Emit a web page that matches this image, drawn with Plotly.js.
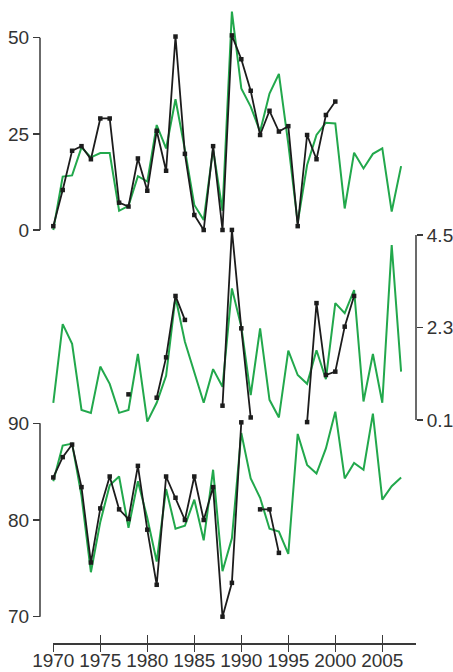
<!DOCTYPE html>
<html>
<head>
<meta charset="utf-8">
<script src="https://cdn.plot.ly/plotly-3.0.1.min.js"></script>
<style>html,body{margin:0;padding:0;background:#fff;}#chart{width:453px;height:672px;}</style>
</head>
<body>
<div id="chart"></div>
<script>
// Years 1970–2007
const years = [];
for (let y = 1970; y <= 2007; y++) years.push(y);

// Top panel (left axis 0–50)
const topGreen = [0, 13.9, 14.2, 21.5, 18.9, 20.0, 20.0, 5.0, 6.3, 14.0, 12.6, 27.3, 21.2, 34.0, 20.9, 6.5, 2.6, 21.0, 5.0, 56.8,
  36.8, 32.1, 25.6, 35.5, 40.6, 22.4, 1.9, 16.9, 24.7, 27.9, 27.7, 5.6, 20.1, 16.0, 19.8, 21.2, 4.8, 16.6];
const topBlack = [1.0, 10.4, 20.6, 21.8, 18.4, 29.0, 29.0, 7.1, 6.1, 18.6, 10.2, 25.8, 15.4, 50.3, 19.8, 3.9, 0, 21.8, 0, 50.6,
  44.4, 36.2, 24.7, 31.0, 25.6, 27.0, 1.0, 24.7, 18.4, 29.9, 33.4, null, null, null, null, null, null, null];

// Middle panel (right axis 0.1–4.5)
const midGreen = [0.51, 2.38, 1.91, 0.34, 0.27, 1.37, 0.96, 0.27, 0.34, 1.67, 0.06, 0.51, 1.15, 3.02, 1.96, 1.25, 0.51, 1.31, 0.89, 3.23,
  2.32, 0.69, 2.28, 0.58, 0.16, 1.75, 1.17, 0.96, 1.76, 1.07, 2.88, 2.64, 3.19, 0.54, 1.67, 0.51, 4.26, 1.25];
const midBlack = [null, null, null, null, null, null, null, null, 0.71, null, null, 0.63, 1.59, 3.05, 2.48, null, null, null, 0.44, 4.62,
  2.28, 0.16, null, null, null, null, null, 0.05, 2.88, 1.17, 1.25, 2.32, 3.05, null, null, null, null, null];

// Bottom panel (left axis 70–90)
const botGreen = [84.0, 87.7, 87.9, 82.5, 74.6, 79.8, 83.6, 84.5, 79.2, 84.0, 80.2, 75.7, 83.2, 79.1, 79.4, 82.1, 77.9, 85.2, 74.7, 78.1,
  89.0, 84.3, 82.3, 79.1, 78.8, 76.5, 88.9, 85.7, 84.8, 87.4, 91.2, 84.3, 85.9, 85.2, 91.0, 82.1, 83.5, 84.4];
const botBlack = [84.4, 86.5, 87.8, 83.4, 75.6, 81.2, 84.5, 81.1, 80.1, 85.6, 79.0, 73.3, 84.5, 82.3, 80.0, 84.5, 80.0, 83.4, 70.0, 73.5,
  90.1, null, 81.1, 81.1, 76.6, null, null, null, null, null, null, null, null, null, null, null, null, null];

const xTicks = [1970, 1975, 1980, 1985, 1990, 1995, 2000, 2005];
const topTicks = [0, 25, 50];
const midTicks = [0.1, 2.3, 4.5];
const botTicks = [70, 80, 90];

const GREEN = '#22a84c';
const BLACK = '#1c1c1c';
const AX = '#3a3a3a';
const TXT = '#333333';

function greenTrace(y, ya) {
  return {x: years, y: y, xaxis: 'x', yaxis: ya, mode: 'lines', line: {color: GREEN, width: 2}, hoverinfo: 'skip', showlegend: false};
}
function blackTrace(y, ya) {
  return {x: years, y: y, xaxis: 'x', yaxis: ya, mode: 'lines+markers', connectgaps: false, cliponaxis: false,
    line: {color: BLACK, width: 1.8}, marker: {symbol: 'square', size: 4.5, color: BLACK}, hoverinfo: 'skip', showlegend: false};
}
function emptyTrace(xa) {
  return {x: [], y: [], xaxis: xa, yaxis: 'y3', mode: 'lines', hoverinfo: 'skip', showlegend: false};
}

const data = [
  greenTrace(topGreen, 'y'), blackTrace(topBlack, 'y'),
  greenTrace(midGreen, 'y2'), blackTrace(midBlack, 'y2'),
  greenTrace(botGreen, 'y3'), blackTrace(botBlack, 'y3'),
  emptyTrace('x2'), emptyTrace('x3'), emptyTrace('x4')
];

const W = 453, H = 672, ML = 40, MR = 37;
const PW = W - ML - MR;
const pxPerYear = 9.4;
const x1970 = 53.3;
const xStart = 1970 - (x1970 - ML) / pxPerYear;
const xEnd = 1970 + (W - MR - x1970) / pxPerYear;
const fy = p => 1 - p / H;
const font = {family: 'Liberation Sans, Arial, sans-serif', size: 19, color: TXT};
const xPos = (H - 643.3) / H;

const layout = {
  width: W, height: H,
  margin: {l: ML, r: MR, t: 0, b: 0},
  paper_bgcolor: '#ffffff', plot_bgcolor: 'rgba(0,0,0,0)',
  showlegend: false,
  font: font,
  xaxis: {visible: false, domain: [0, 1], range: [xStart, xEnd], anchor: 'y', fixedrange: true},
  xaxis2: {domain: [(x1970 - ML) / PW, 1], range: [1970, xEnd], anchor: 'free', position: xPos,
    tickvals: xTicks, ticktext: xTicks.map(String), ticks: 'outside', ticklen: 4, tickwidth: 1.5, tickcolor: AX,
    ticklabelstandoff: -5,
    showline: true, linecolor: AX, linewidth: 1.5, showgrid: false, zeroline: false, tickfont: font, fixedrange: true},
  xaxis3: {overlaying: 'x2', range: [1970, xEnd], anchor: 'free', position: xPos,
    tickvals: xTicks, ticks: 'inside', ticklen: 8, tickwidth: 1.5, tickcolor: AX, showticklabels: false,
    showline: false, showgrid: false, zeroline: false, fixedrange: true},
  xaxis4: {overlaying: 'x2', range: [1970, xEnd], anchor: 'free', position: xPos,
    tickvals: xTicks, ticks: 'outside', ticklen: 8, tickwidth: 1.5, tickcolor: AX, showticklabels: false,
    showline: false, showgrid: false, zeroline: false, fixedrange: true},
  yaxis: {domain: [fy(240), fy(0)], range: [-(240 - 230) / 3.846, 230 / 3.846], anchor: 'free', position: 0,
    tickvals: topTicks, ticks: 'outside', ticklen: 7, tickwidth: 1.5, tickcolor: AX, tickfont: font,
    showline: false, showgrid: false, zeroline: false, fixedrange: true},
  yaxis2: {domain: [fy(430), fy(215)], range: [0.1 + (420 - 430) / 42.05, 0.1 + (420 - 215) / 42.05], anchor: 'free', position: 1, side: 'right',
    tickvals: midTicks, ticktext: ['0.1', '2.3', '4.5'], ticks: 'outside', ticklen: 6, tickwidth: 1.5, tickcolor: AX, tickfont: font,
    showline: false, showgrid: false, zeroline: false, fixedrange: true},
  yaxis3: {domain: [fy(625), fy(400)], range: [70 - (625 - 616.7) / 9.67, 90 + (423.3 - 400) / 9.67], anchor: 'free', position: 0,
    tickvals: botTicks, ticks: 'outside', ticklen: 7, tickwidth: 1.5, tickcolor: AX, tickfont: font,
    showline: false, showgrid: false, zeroline: false, fixedrange: true},
  shapes: [
    {type: 'line', xref: 'paper', yref: 'y', x0: 0, x1: 0, y0: topTicks[0], y1: topTicks[2], line: {color: AX, width: 1.5}},
    {type: 'line', xref: 'paper', yref: 'y2', x0: 1, x1: 1, y0: midTicks[0], y1: midTicks[2], line: {color: AX, width: 1.5}},
    {type: 'line', xref: 'paper', yref: 'y3', x0: 0, x1: 0, y0: botTicks[0], y1: botTicks[2], line: {color: AX, width: 1.5}}
  ]
};

Plotly.newPlot('chart', data, layout, {staticPlot: true, displayModeBar: false});
</script>
</body>
</html>
